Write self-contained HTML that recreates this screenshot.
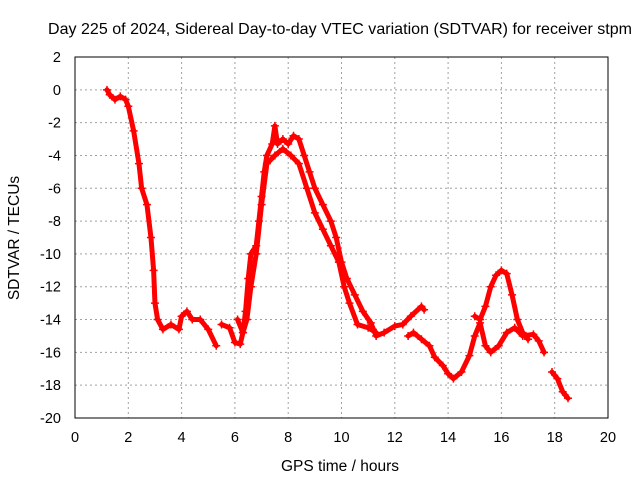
<!DOCTYPE html>
<html><head><meta charset="utf-8"><style>
body{margin:0;background:#fff}
svg{display:block;font-family:"Liberation Sans",sans-serif}
</style></head><body>
<svg id="chart" width="640" height="480">
<text x="340" y="34" font-size="16" text-anchor="middle" textLength="584">Day 225 of 2024, Sidereal Day-to-day VTEC variation (SDTVAR) for receiver stpm</text>
<text x="340" y="471" font-size="15.5" text-anchor="middle">GPS time / hours</text>
<text transform="translate(19,238) rotate(-90)" font-size="15.5" text-anchor="middle">SDTVAR / TECUs</text>
<g id="grid"></g><g id="ticks"></g><g id="series"></g>
<rect x="75" y="57" width="533" height="361" fill="none" stroke="#000" stroke-width="1"/>
</svg>
<script>
const xTicks=[0,2,4,6,8,10,12,14,16,18,20];
const yTicks=[2,0,-2,-4,-6,-8,-10,-12,-14,-16,-18,-20];
const seg1X=[1.2,1.3,1.5,1.7,1.9,2.0,2.2,2.4,2.5,2.7,2.85,2.95,3.0,3.1,3.3,3.6,3.9,4.0,4.2,4.4,4.7,5.0,5.3];
const seg1Y=[0,-0.3,-0.6,-0.4,-0.6,-1.0,-2.5,-4.5,-6,-7,-9,-11,-13,-14,-14.6,-14.3,-14.6,-13.8,-13.5,-14,-14,-14.6,-15.6];
const seg2X=[5.5,5.8,6.0,6.2,6.3,6.4,6.5,6.6,6.8,6.9,7.0,7.1,7.2,7.4,7.5,7.6,7.8,8.0,8.2,8.4,8.6,8.8,9.0,9.3,9.6,9.8,10.0,10.2,10.5,10.8,11.1,11.3,11.6,12.0,12.3,12.6,13.0,13.1];
const seg2Y=[-14.3,-14.5,-15.4,-15.5,-14.8,-13.5,-11.5,-10,-9.5,-8,-6.5,-5,-4,-3.3,-2.2,-3.3,-3,-3.3,-2.8,-3,-4,-5,-6,-7,-8,-9,-10.5,-11.5,-12.5,-13.5,-14.2,-15,-14.8,-14.4,-14.3,-13.8,-13.2,-13.4];
const seg3X=[6.1,6.3,6.45,6.6,6.8,7.0,7.2,7.5,7.8,8.1,8.4,8.7,9.0,9.3,9.6,9.9,10.1,10.3,10.6,11.0,11.3];
const seg3Y=[-14,-14.8,-14,-12,-10,-7,-4.5,-4,-3.6,-4,-4.5,-6,-7.5,-8.5,-9.5,-10.5,-12,-13,-14.3,-14.5,-14.8];
const seg4X=[12.5,12.7,13.0,13.3,13.5,13.8,14.0,14.2,14.5,14.8,15.0,15.2,15.4,15.6,15.9,16.2,16.5,16.8,17.2,17.4,17.6];
const seg4Y=[-15,-14.8,-15.2,-15.6,-16.3,-16.8,-17.3,-17.6,-17.2,-16.2,-15,-14.2,-15.6,-16,-15.6,-14.8,-14.5,-15,-14.9,-15.3,-16];
const seg5X=[15.0,15.2,15.4,15.6,15.8,16.0,16.2,16.4,16.6,16.8,17.0];
const seg5Y=[-13.8,-14,-13.2,-12,-11.3,-11,-11.2,-12.5,-14,-14.8,-15.2];
const seg6X=[17.9,18.1,18.3,18.5];
const seg6Y=[-17.2,-17.6,-18.4,-18.8];
const NS="http://www.w3.org/2000/svg";
const L=75,R=608,T=57,B=418;
function sx(v){return L+(v-0)/20*(R-L);}
function sy(v){return T+(2-v)/22*(B-T);}
function mk(tag,attrs,parent){const e=document.createElementNS(NS,tag);for(const k in attrs)e.setAttribute(k,attrs[k]);parent.appendChild(e);return e;}
const grid=document.getElementById('grid'),ticks=document.getElementById('ticks'),series=document.getElementById('series');
xTicks.forEach(v=>{
  const x=sx(v);
  if(v>0&&v<20){const g=mk('line',{x1:x,x2:x,y1:T,y2:B,stroke:'#a0a0a0','stroke-dasharray':'2,3'},grid);
  
  }
  const t=mk('text',{x:x,y:442,'font-size':14.5,'text-anchor':'middle'},ticks);t.textContent=v;
  
  
});
yTicks.forEach(v=>{
  const y=sy(v);
  if(v<2&&v>-20){const g=mk('line',{x1:L,x2:R,y1:y,y2:y,stroke:'#a0a0a0','stroke-dasharray':'2,3'},grid);
  
  }
  const t=mk('text',{x:61,y:y+5,'font-size':14.5,'text-anchor':'end'},ticks);t.textContent=v;
  
  
});
const segs=[[seg1X,seg1Y],[seg2X,seg2Y],[seg3X,seg3Y],[seg4X,seg4Y],[seg5X,seg5Y],[seg6X,seg6Y]];
segs.forEach((s,i)=>{
  const pts=s[0].map((x,j)=>sx(x)+','+sy(s[1][j])).join(' ');
  const p=mk('polyline',{points:pts,fill:'none',stroke:'#ff0000','stroke-width':5,'stroke-linejoin':'round','stroke-linecap':'round'},series);
  
  
  s[0].forEach((x,j)=>{
    const px=sx(x),py=sy(s[1][j]);
    const m=mk('path',{d:`M${px-4},${py}h8M${px},${py-4}v8`,stroke:'#ff0000','stroke-width':1.5},series);
    
    
  });
});
</script>
</body></html>
